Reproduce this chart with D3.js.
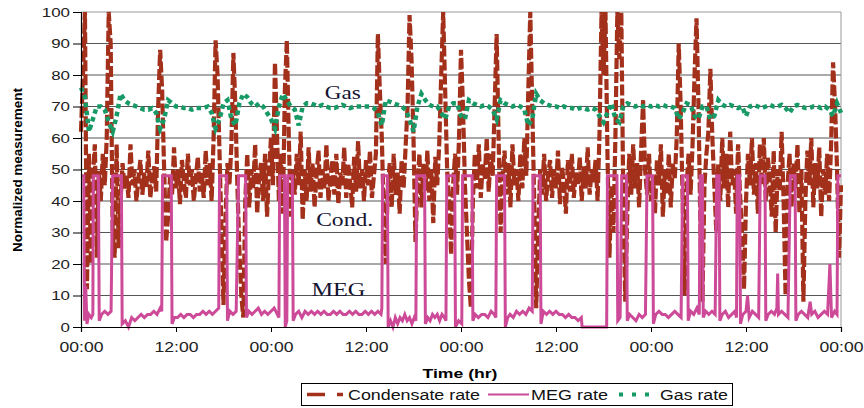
<!DOCTYPE html>
<html>
<head>
<meta charset="utf-8">
<script src="https://cdn.jsdelivr.net/npm/d3@7"></script>
<style>
body { margin: 0; background: #fff; }
text { font-family: "Liberation Sans", Arial, sans-serif; }
</style>
</head>
<body>
<svg id="chart" width="864" height="408"></svg>
<script>
var yTicks = [0, 10, 20, 30, 40, 50, 60, 70, 80, 90, 100];
var xTickHours = [0, 12, 24, 36, 48, 60, 72, 84, 96];
var xTickLabels = ["00:00", "12:00", "00:00", "12:00", "00:00", "12:00", "00:00", "12:00", "00:00"];
var seriesNames = ["Condensate rate", "MEG rate", "Gas rate"];

// condensate, one value every 0.25 hr
var condStep = 0.25;
var condensate = [
	62,80,100,12, 55,20,48,58, 22,50,40,55, 45,60,100,90, 30,22,58,25, 40,52,44,48,
	41,58,45,50, 40,47,53,42, 49,44,56,41, 47,51,43,70, 88,75,50,27, 35,48,42,57,
	44,50,39,53, 46,41,55,45, 50,40,47,54, 43,49,41,56, 45,52,40,60, 91,80,55,30,
	7,35,52,45, 58,87,70,45, 25,10,3,40, 55,38,50,44, 58,36,48,52, 40,55,35,50,
	60,45,84,62, 40,55,36,75, 91,60,35,50, 42,55,45,62, 34,50,40,57, 43,52,38,48,
	56,41,50,44, 58,40,47,53, 42,55,39,49, 45,57,41,52, 46,38,54,43, 59,44,50,40,
	53,45,56,41, 48,55,93,75, 60,35,20,45, 52,38,55,42, 49,36,53,44, 57,70,99,85,
	60,27,45,55, 38,52,43,56, 40,50,33,54, 45,58,80,100, 75,50,40,23, 45,55,42,60,
	88,70,45,30, 15,6,40,55, 44,58,41,52, 47,60,43,55, 48,70,93,60, 30,48,56,42,
	52,38,58,45, 50,40,55,44, 60,48,75,100, 70,40,6,30, 50,42,55,40, 48,53,41,50,
	44,56,39,51, 46,36,53,43, 55,41,49,45, 54,40,51,44, 57,42,50,46, 53,40,62,100,
	80,100,55,22, 45,30,60,100, 85,100,40,8, 35,55,42,58, 44,52,38,56, 72,50,42,55,
	40,48,36,53, 45,58,35,50, 42,55,38,52, 47,60,90,70, 40,10,45,55, 42,58,80,98,
	70,30,8,45, 55,62,82,60, 45,30,52,40, 60,44,55,38, 62,45,50,36, 58,42,30,12,
	40,55,45,60, 42,52,36,58, 45,60,40,54, 47,35,56,30, 50,43,62,40, 10,45,55,38,
	52,44,58,36, 50,8,40,56, 45,60,38,52, 44,57,35,50, 42,55,40,58, 84,70,50,22,
	45
];

// MEG, [hour, value]
var megRate = [
	[0,48],[0.35,48],[0.45,2],[0.6,13],[0.75,1],[1.0,4],[1.3,3],[1.5,4],[1.55,48],[2.2,48],[2.3,2],[2.6,4],
	[3.0,5],[3.4,4],[3.8,5],[4.0,48],[5.1,48],[5.2,1],[5.6,2],[6.0,0],[6.4,3],[6.8,2],[7.2,3],[7.6,4],
	[8.0,3],[8.4,4],[8.8,4],[9.2,5],[9.6,4],[10.0,6],[10.2,5],[10.3,48],[11.4,48],[11.5,1],[11.8,3],[12.2,3],
	[12.6,4],[13.0,3],[13.4,4],[13.8,4],[14.2,3],[14.6,4],[15.0,4],[15.4,5],[15.8,4],[16.2,5],[16.6,4],[17.0,5],
	[17.4,6],[17.5,48],[18.4,48],[18.5,2],[18.8,5],[19.2,4],[19.6,5],[19.9,48],[20.8,48],[20.9,3],[21.2,5],[21.6,4],
	[22.0,5],[22.4,6],[22.8,4],[23.2,5],[23.6,4],[24.0,5],[24.4,6],[24.8,4],[25.0,3],[25.1,48],[25.7,48],[25.8,0],
	[26.0,2],[26.1,48],[26.7,48],[26.8,2],[27.1,4],[27.5,5],[27.9,3],[28.3,5],[28.7,4],[29.1,5],[29.5,4],[29.9,5],
	[30.3,4],[30.7,5],[31.1,4],[31.5,4],[31.9,5],[32.3,4],[32.7,5],[33.1,4],[33.5,4],[33.9,5],[34.3,4],[34.7,5],
	[35.1,4],[35.5,4],[35.9,5],[36.3,4],[36.7,5],[37.1,4],[37.5,5],[37.9,4],[38.0,6],[38.1,48],[38.7,48],[38.8,0],
	[39.1,2],[39.4,0],[39.7,3],[40.0,1],[40.3,3],[40.6,2],[40.9,4],[41.2,2],[41.5,3],[41.8,1],[42.1,3],[42.3,2],
	[42.4,48],[43.4,48],[43.5,1],[43.8,3],[44.1,2],[44.4,4],[44.7,3],[45.0,4],[45.3,2],[45.6,4],[45.9,3],[46.1,2],
	[46.2,48],[47.2,48],[47.3,0],[47.7,2],[48.1,1],[48.2,48],[49.4,48],[49.5,2],[49.8,4],[50.2,3],[50.6,4],[51.0,4],
	[51.4,3],[51.8,5],[52.2,4],[52.4,3],[52.5,48],[53.5,48],[53.6,0],[53.9,3],[54.2,4],[54.6,3],[55.0,5],[55.4,4],
	[55.8,5],[56.2,4],[56.6,6],[57.0,5],[57.1,48],[58.0,48],[58.1,1],[58.4,5],[58.8,4],[59.2,5],[59.6,4],[60.0,5],
	[60.4,4],[60.8,4],[61.2,3],[61.6,4],[62.0,3],[62.4,3],[62.8,2],[63.2,3],[63.3,0],[66.4,0],[66.5,48],[67.7,48],
	[67.8,2],[68.1,3],[68.3,48],[68.9,48],[69.0,2],[69.3,4],[69.7,3],[70.1,2],[70.5,4],[70.9,3],[71.3,4],[71.5,48],
	[72.2,48],[72.3,1],[72.6,4],[73.0,5],[73.4,4],[73.8,4],[74.2,3],[74.6,4],[75.0,5],[75.4,4],[75.8,3],[76.0,48],
	[76.6,48],[76.7,2],[77.0,5],[77.4,4],[77.8,6],[78.1,4],[78.2,48],[78.5,48],[78.6,3],[78.9,5],[79.3,4],[79.7,5],
	[80.1,4],[80.3,48],[80.6,48],[80.7,2],[81.0,4],[81.4,5],[81.8,3],[82.2,4],[82.6,5],[82.8,3],[82.9,48],[83.2,48],
	[83.3,1],[83.6,4],[84.0,5],[84.2,10],[84.4,3],[84.8,5],[85.2,4],[85.6,3],[85.8,48],[86.4,48],[86.5,2],[86.8,4],
	[87.2,5],[87.6,4],[87.9,6],[88.0,17],[88.1,4],[88.5,5],[88.9,4],[89.3,3],[89.6,48],[90.2,48],[90.3,2],[90.6,4],
	[91.0,5],[91.4,4],[91.8,3],[92.1,8],[92.3,4],[92.7,5],[93.1,3],[93.5,4],[93.9,5],[94.3,4],[94.6,20],[94.8,3],
	[95.2,5],[95.5,4],[95.6,48],[96,48]
];

// gas, one value every 0.5 hr
var gasStep = 0.5;
var gasRate = [
	76,73,62,66,70,70,69,65,62,67,74,72,
	71,70.5,70,69.5,69,69,69.5,68,63,66,72,71,
	70,70,69.5,69.5,69,69.5,69.5,69.5,70,68,63,66,
	71,72,66,64,71,74,73,71,70,71,70,68,
	66,63,70,74,72,70,69,64,70,71,71,70.5,
	70,70.5,70,69.5,69.5,70,70.5,70,69.5,70,70,70,
	70,70,69.5,68,64,72,71.5,71,70.5,70,69,66,
	62,70,74,72,70.5,70,70,68,66,70,71,71,
	67,66,72,71,70.5,70,70.5,70,69,66,72,71,
	70.5,70,70.5,70,69,64,66,74,72,71,70.5,70,
	70,69.5,70,69.5,69.5,69,69.5,69.5,69,69.5,69,67,
	65,68,71,66,65,70,71,70.5,70,70.5,70,70.5,
	70,70.5,70,70.5,70,70,69.5,66,68,71,70.5,67,
	66,70,70,66,67,72,70.5,70,70.5,70,69.5,70,
	67,70,70.5,70,69.5,70,70.5,70,70,70.5,69.5,68,
	70,70.5,70,69.5,69.5,70,70,69.5,70,69,67,71,
	68
];

var colors = ["#a3301b", "#cc4a98", "#179a66"];

var svg = d3.select("#chart");
var x = d3.scaleLinear().domain([0, 96]).range([81, 841]);
var y = d3.scaleLinear().domain([0, 100]).range([327, 12]);

// grid
svg.append("g").selectAll("line")
	.data(yTicks.filter(function(d) { return d > 0; }))
	.enter().append("line")
	.attr("x1", x(0)).attr("x2", x(96))
	.attr("y1", function(d) { return y(d); })
	.attr("y2", function(d) { return y(d); })
	.attr("stroke", function(d) { return d == 100 ? "#999" : "#555"; })
	.attr("stroke-width", 1);
svg.append("line")
	.attr("x1", x(96)).attr("x2", x(96))
	.attr("y1", y(0)).attr("y2", y(100))
	.attr("stroke", "#999");

// series
var condLine = d3.line()
	.x(function(d, i) { return x(i * condStep); })
	.y(function(d) { return y(d); });
var megLine = d3.line()
	.x(function(d) { return x(d[0]); })
	.y(function(d) { return y(d[1]); });
var gasLine = d3.line()
	.x(function(d, i) { return x(i * gasStep); })
	.y(function(d) { return y(d); });

svg.append("path")
	.attr("d", condLine(condensate))
	.attr("fill", "none")
	.attr("stroke", colors[0])
	.attr("stroke-width", 4.2)
	.attr("stroke-dasharray", "11,3");

svg.append("path")
	.attr("d", megLine(megRate))
	.attr("fill", "none")
	.attr("stroke", colors[1])
	.attr("stroke-width", 3);

svg.append("path")
	.attr("d", gasLine(gasRate))
	.attr("fill", "none")
	.attr("stroke", colors[2])
	.attr("stroke-width", 4.5)
	.attr("stroke-dasharray", "4.5,3.5");

// axes
var yAxis = svg.append("g")
	.attr("transform", "translate(" + x(0) + ",0)")
	.call(d3.axisLeft(y).tickValues(yTicks).tickSize(8).tickPadding(3));
yAxis.select(".domain").attr("stroke", "#000").attr("stroke-width", 1.2);
yAxis.selectAll(".tick line").attr("stroke", "#000");
yAxis.selectAll("text")
	.attr("font-size", 13)
	.attr("fill", "#222")
	.attr("textLength", function(d) { return String(d).length * 9.4; })
	.attr("lengthAdjust", "spacingAndGlyphs");

var xAxis = svg.append("g")
	.attr("transform", "translate(0," + y(0) + ")")
	.call(d3.axisBottom(x).tickValues(xTickHours)
		.tickFormat(function(d, i) { return xTickLabels[i]; })
		.tickSize(5).tickPadding(10));
xAxis.select(".domain").attr("stroke", "#000").attr("stroke-width", 1.2);
xAxis.selectAll(".tick line").attr("stroke", "#000");
xAxis.selectAll("text")
	.attr("font-size", 14)
	.attr("fill", "#222")
	.attr("textLength", 44)
	.attr("lengthAdjust", "spacingAndGlyphs");

// titles
svg.append("text")
	.attr("transform", "translate(22,170) rotate(-90)")
	.attr("text-anchor", "middle")
	.attr("font-size", 12)
	.attr("font-weight", "bold")
	.attr("textLength", 164)
	.attr("lengthAdjust", "spacingAndGlyphs")
	.text("Normalized measurement");

svg.append("text")
	.attr("x", 460).attr("y", 378)
	.attr("text-anchor", "middle")
	.attr("font-size", 13)
	.attr("font-weight", "bold")
	.attr("textLength", 75)
	.attr("lengthAdjust", "spacingAndGlyphs")
	.text("Time (hr)");

// labels on the plot
var notes = [["Gas", 30.8, 72.5, 36], ["Cond.", 29.7, 32, 57], ["MEG", 29.1, 10, 54]];
svg.append("g").selectAll("text")
	.data(notes)
	.enter().append("text")
	.attr("x", function(d) { return x(d[1]); })
	.attr("y", function(d) { return y(d[2]); })
	.style("font-family", "'Liberation Serif', 'Times New Roman', serif")
	.attr("font-size", 18)
	.attr("fill", "#141432")
	.attr("textLength", function(d) { return d[3]; })
	.attr("lengthAdjust", "spacingAndGlyphs")
	.text(function(d) { return d[0]; });

// legend
var lg = svg.append("g");
lg.append("rect")
	.attr("x", 301.5).attr("y", 383.5)
	.attr("width", 431).attr("height", 22)
	.attr("fill", "#fff").attr("stroke", "#000");
var legendItems = [
	{ name: seriesNames[0], x0: 307, x1: 343, tx: 348, tw: 132, dash: "18,12", w: 3.5 },
	{ name: seriesNames[1], x0: 488, x1: 529, tx: 531, tw: 77, dash: null, w: 2 },
	{ name: seriesNames[2], x0: 619, x1: 658, tx: 660, tw: 68, dash: "4,9", w: 4 }
];
legendItems.forEach(function(it, i) {
	lg.append("line")
		.attr("x1", it.x0).attr("x2", it.x1)
		.attr("y1", 394.5).attr("y2", 394.5)
		.attr("stroke", colors[i])
		.attr("stroke-width", it.w)
		.attr("stroke-dasharray", it.dash);
	lg.append("text")
		.attr("x", it.tx).attr("y", 400)
		.attr("font-size", 14)
		.attr("fill", "#111")
		.attr("textLength", it.tw)
		.attr("lengthAdjust", "spacingAndGlyphs")
		.text(it.name);
});
</script>
</body>
</html>
